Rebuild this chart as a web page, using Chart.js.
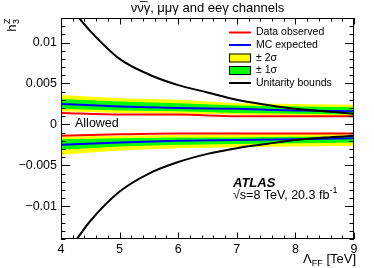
<!DOCTYPE html>
<html>
<head>
<meta charset="utf-8">
<script src="https://cdn.jsdelivr.net/npm/chart.js@4.4.1/dist/chart.umd.min.js"></script>
<style>
  html, body { margin: 0; padding: 0; background: #fff; }
  canvas { display: block; }
</style>
</head>
<body>
<canvas id="chart" width="374" height="268"></canvas>
<script>
const FONT = '"Liberation Sans", Arial, Helvetica, sans-serif';

// band points at Lambda = 4..9 TeV
const LAMBDA = [4, 5, 6, 7, 8, 9];

const UP_YELLOW_HI = [0.0036, 0.0032, 0.0030, 0.0026, 0.0025, 0.0024];
const UP_GREEN_HI = [0.0031, 0.0028, 0.0026, 0.0023, 0.0022, 0.0021];
const UP_EXPECTED = [0.0025, 0.0022, 0.0020, 0.0019, 0.0017, 0.0016];
const UP_GREEN_LO = [0.0019, 0.0017, 0.0016, 0.0014, 0.0013, 0.0012];
const UP_YELLOW_LO = [0.0016, 0.0014, 0.0013, 0.0012, 0.0011, 0.0010];
const UP_OBSERVED = [0.0014, 0.0012, 0.0012, 0.0010, 0.0010, 0.0010];

const LO_OBSERVED = [-0.0014, -0.0012, -0.0011, -0.0011, -0.0011, -0.0011];
const LO_YELLOW_HI = [-0.0015, -0.0014, -0.0013, -0.0012, -0.0012, -0.0012];
const LO_GREEN_HI = [-0.0018, -0.0017, -0.0016, -0.0016, -0.0015, -0.0015];
const LO_EXPECTED = [-0.0025, -0.0022, -0.0020, -0.0019, -0.0018, -0.0017];
const LO_GREEN_LO = [-0.0031, -0.0027, -0.0025, -0.0024, -0.0023, -0.0022];
const LO_YELLOW_LO = [-0.0037, -0.0032, -0.0029, -0.0028, -0.0027, -0.0026];

// unitarity bounds
const LAMBDA_UNIT = [4.25, 4.5, 5, 5.5, 6, 6.5, 7, 7.5, 8, 8.5, 9];
const UNIT_UP = [0.0135, 0.0114, 0.0080, 0.0061, 0.0048, 0.0039, 0.0030, 0.0024, 0.0019, 0.0016, 0.0013];
const UNIT_DOWN = [-0.0142, -0.0118, -0.0082, -0.0060, -0.0046, -0.0036, -0.0029, -0.0024, -0.0019, -0.0016, -0.0014];

const X_TICKS = [4, 5, 6, 7, 8, 9];
const Y_TICKS = [-0.01, -0.005, 0, 0.005, 0.01];
const Y_TICK_LABELS = ['\u22120.01', '\u22120.005', '0', '0.005', '0.01'];

const X_MIN = 4, X_MAX = 9, Y_MIN = -0.014, Y_MAX = 0.013;

const YELLOW = '#ffff00';
const GREEN = '#00ff00';
const RED = '#ff0000';
const BLUE = '#0000ff';

function pts(xs, ys) {
  return xs.map((x, i) => ({ x, y: ys[i] }));
}

function edge(data, fill, color, order) {
  return {
    data: pts(LAMBDA, data),
    fill: fill === null ? false : { target: fill },
    backgroundColor: color,
    borderWidth: 0,
    pointRadius: 0,
    order
  };
}

function line(xs, data, color, order) {
  return {
    data: pts(xs, data),
    fill: false,
    borderColor: color,
    borderWidth: 2,
    pointRadius: 0,
    cubicInterpolationMode: 'monotone',
    order
  };
}

const datasets = [
  edge(UP_YELLOW_HI, 1, YELLOW, 5),
  edge(UP_YELLOW_LO, null, YELLOW, 5),
  edge(UP_GREEN_HI, 3, GREEN, 4),
  edge(UP_GREEN_LO, null, GREEN, 4),
  edge(LO_YELLOW_HI, 5, YELLOW, 5),
  edge(LO_YELLOW_LO, null, YELLOW, 5),
  edge(LO_GREEN_HI, 7, GREEN, 4),
  edge(LO_GREEN_LO, null, GREEN, 4),
  line(LAMBDA, UP_OBSERVED, RED, 2),
  line(LAMBDA, LO_OBSERVED, RED, 2),
  line(LAMBDA, UP_EXPECTED, BLUE, 1),
  line(LAMBDA, LO_EXPECTED, BLUE, 1),
  line(LAMBDA_UNIT, UNIT_UP, '#000', 0),
  line(LAMBDA_UNIT, UNIT_DOWN, '#000', 0)
];

function text(ctx, str, x, y, size, align, weight) {
  ctx.font = (weight || '') + ' ' + size + 'px ' + FONT;
  ctx.textAlign = align || 'left';
  ctx.textBaseline = 'middle';
  ctx.fillText(str, x, y);
  return ctx.measureText(str).width;
}

const decorations = {
  id: 'decorations',
  afterDatasetsDraw(chart) {
    const { ctx, chartArea: a, scales: { x, y } } = chart;
    ctx.save();
    ctx.fillStyle = '#000';
    ctx.strokeStyle = '#000';
    ctx.lineWidth = 1;

    // frame
    ctx.strokeRect(a.left + 0.5, a.top + 0.5, a.right - a.left - 1, a.bottom - a.top - 1);

    // inward ticks on all four sides
    ctx.beginPath();
    for (let v = X_MIN; v <= X_MAX + 1e-9; v += 0.2) {
      const px = Math.round(x.getPixelForValue(v)) + 0.5;
      const major = Math.abs(v - Math.round(v)) < 1e-6;
      const len = major ? 6.5 : 3.5;
      ctx.moveTo(px, a.bottom); ctx.lineTo(px, a.bottom - len);
      ctx.moveTo(px, a.top); ctx.lineTo(px, a.top + len);
    }
    for (let k = -14; k <= 13; k++) {
      const v = k / 1000;
      const py = Math.round(y.getPixelForValue(v)) + 0.5;
      const len = k % 5 === 0 ? 9 : 4.5;
      ctx.moveTo(a.left, py); ctx.lineTo(a.left + len, py);
      ctx.moveTo(a.right, py); ctx.lineTo(a.right - len, py);
    }
    ctx.stroke();

    // title
    text(ctx, '\u03BD\u03BD\u0305\u03B3, \u03BC\u03BC\u03B3 and ee\u03B3 channels', (a.left + a.right) / 2, 8, 13, 'center');

    // y title h_3^Z, rotated
    ctx.save();
    ctx.translate(16, a.top);
    ctx.rotate(-Math.PI / 2);
    ctx.textBaseline = 'alphabetic';
    ctx.font = '13px ' + FONT;
    const wh = ctx.measureText('h').width;
    ctx.font = '9px ' + FONT;
    const ws = Math.max(ctx.measureText('3').width, ctx.measureText('Z').width);
    const start = -(wh + ws + 1);
    ctx.font = '13px ' + FONT;
    ctx.textAlign = 'left';
    ctx.fillText('h', start, 0);
    ctx.font = '9px ' + FONT;
    ctx.fillText('Z', start + wh + 0.5, -6);
    ctx.fillText('3', start + wh + 0.5, 3);
    ctx.restore();

    // x title Lambda_FF [TeV]
    ctx.textBaseline = 'alphabetic';
    ctx.font = '13px ' + FONT;
    const wTev = ctx.measureText(' [TeV]').width;
    const wL = ctx.measureText('\u039B').width;
    ctx.font = '9px ' + FONT;
    const wFF = ctx.measureText('FF').width;
    let xr = a.right + 2;
    ctx.font = '13px ' + FONT;
    ctx.textAlign = 'right';
    ctx.fillText(' [TeV]', xr, 263);
    ctx.font = '9px ' + FONT;
    ctx.fillText('FF', xr - wTev, 266);
    ctx.font = '13px ' + FONT;
    ctx.fillText('\u039B', xr - wTev - wFF, 263);

    // annotations
    text(ctx, 'Allowed', 75, 124, 12.5, 'left');
    text(ctx, 'ATLAS', 233, 183, 13, 'left', 'italic bold');
    const ws8 = text(ctx, '\u221As=8 TeV, 20.3 fb', 233, 196, 12.5, 'left');
    text(ctx, '-1', 233 + ws8, 191, 9, 'left');

    // legend
    const lx0 = 229, lx1 = 251, tx = 256;
    const items = [
      { label: 'Data observed', type: 'line', color: RED, y: 32.5 },
      { label: 'MC expected', type: 'line', color: BLUE, y: 45 },
      { label: '\u00B1 2\u03C3', type: 'box', color: YELLOW, y: 58 },
      { label: '\u00B1 1\u03C3', type: 'box', color: GREEN, y: 70.5 },
      { label: 'Unitarity bounds', type: 'line', color: '#000', y: 83 }
    ];
    for (const it of items) {
      if (it.type === 'line') {
        ctx.strokeStyle = it.color;
        ctx.lineWidth = 2;
        ctx.beginPath();
        ctx.moveTo(lx0, it.y); ctx.lineTo(lx1, it.y);
        ctx.stroke();
      } else {
        ctx.fillStyle = it.color;
        ctx.fillRect(lx0, it.y - 4.5, lx1 - lx0, 9);
        ctx.strokeStyle = '#000';
        ctx.lineWidth = 1;
        ctx.strokeRect(lx0 + 0.5, it.y - 4.5 + 0.5, lx1 - lx0 - 1, 8);
      }
      ctx.fillStyle = '#000';
      text(ctx, it.label, tx, it.y, 10.5, 'left');
    }
    ctx.restore();
  }
};

new Chart(document.getElementById('chart'), {
  type: 'line',
  data: { datasets },
  options: {
    responsive: false,
    animation: false,
    devicePixelRatio: 1,
    layout: { padding: { top: 18, right: 20, left: 0, bottom: 0 } },
    plugins: {
      legend: { display: false },
      tooltip: { enabled: false },
      filler: { propagate: false }
    },
    scales: {
      x: {
        type: 'linear',
        min: X_MIN,
        max: X_MAX,
        afterBuildTicks: (s) => { s.ticks = X_TICKS.map((v) => ({ value: v })); },
        afterFit: (s) => { s.height = 29; },
        grid: { display: false, drawTicks: false },
        border: { display: false },
        ticks: { color: '#000', padding: 3, maxRotation: 0, font: { family: FONT, size: 12.5 } }
      },
      y: {
        type: 'linear',
        min: Y_MIN,
        max: Y_MAX,
        afterBuildTicks: (s) => { s.ticks = Y_TICKS.map((v) => ({ value: v })); },
        afterFit: (s) => { s.width = 61; },
        grid: { display: false, drawTicks: false },
        border: { display: false },
        ticks: {
          color: '#000',
          padding: 4,
          font: { family: FONT, size: 12.5 },
          callback: (v) => Y_TICK_LABELS[Y_TICKS.findIndex((t) => Math.abs(t - v) < 1e-9)]
        }
      }
    }
  },
  plugins: [decorations]
});
</script>
</body>
</html>
